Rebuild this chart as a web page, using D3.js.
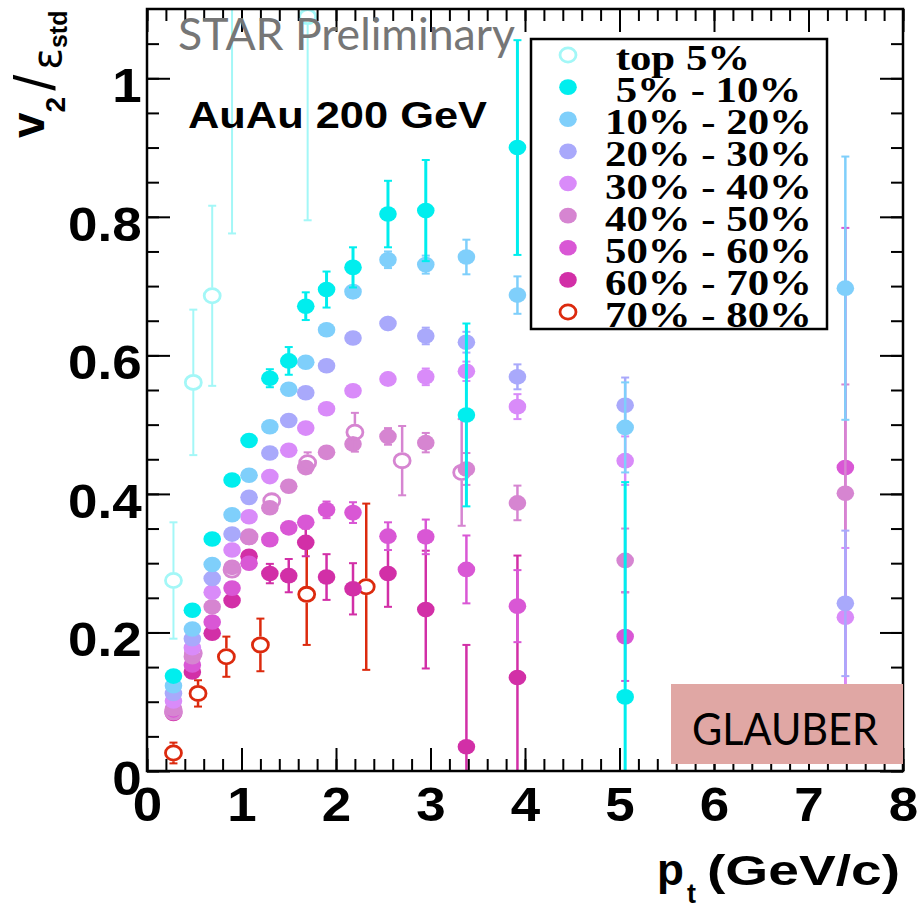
<!DOCTYPE html>
<html><head><meta charset="utf-8">
<script src="https://cdn.jsdelivr.net/npm/d3@7"></script>
<style>html,body{margin:0;padding:0;background:#fff;} svg{display:block}</style>
</head><body>
<svg id="chart" width="917" height="909"></svg>
<script>
// pt bins (GeV/c) shared by the filled-marker centrality classes
const ptBins = [0.28, 0.48, 0.69, 0.90, 1.08, 1.30, 1.50, 1.68, 1.90, 2.18, 2.55, 2.95, 3.38, 3.92, 5.06, 7.39];

// v2/eps_std per centrality class, with statistical errors
const v5to10   = [0.137, 0.232, 0.335, 0.420, 0.477, 0.567, 0.592, 0.671, 0.695, 0.727, 0.804, 0.809, 0.514, 0.900, 0.107, null];
const e5to10   = [0.004, 0.005, 0.006, 0.007, 0.008, 0.013, 0.020, 0.020, 0.026, 0.029, 0.048, 0.073, 0.132, 0.155, 0.310, null];
const v10to20  = [0.123, 0.205, 0.298, 0.370, 0.427, 0.497, 0.551, 0.590, 0.637, 0.692, 0.738, 0.731, 0.742, 0.687, 0.496, 0.697];
const e10to20  = [0.003, 0.004, 0.005, 0.006, 0.006, 0.007, 0.008, 0.009, 0.010, 0.011, 0.012, 0.013, 0.025, 0.027, 0.065, 0.190];
const v20to30  = [0.112, 0.191, 0.278, 0.342, 0.395, 0.459, 0.506, 0.546, 0.585, 0.625, 0.646, 0.628, 0.619, 0.569, 0.528, 0.242];
const e20to30  = [0.003, 0.004, 0.005, 0.005, 0.006, 0.006, 0.007, 0.008, 0.009, 0.010, 0.011, 0.012, 0.015, 0.018, 0.040, 0.105];
const v30to40  = [0.101, 0.178, 0.258, 0.319, 0.367, 0.425, 0.463, 0.495, 0.523, 0.549, 0.566, 0.569, 0.577, 0.526, 0.448, 0.222];
const e30to40  = [0.003, 0.004, 0.005, 0.005, 0.006, 0.006, 0.007, 0.008, 0.009, 0.010, 0.011, 0.012, 0.014, 0.018, 0.035, 0.100];
const v40to50  = [0.090, 0.165, 0.237, 0.294, 0.337, 0.380, 0.411, 0.438, 0.460, 0.472, 0.483, 0.474, 0.436, 0.387, 0.304, 0.401];
const e40to50  = [0.003, 0.004, 0.005, 0.005, 0.006, 0.007, 0.008, 0.009, 0.010, 0.011, 0.012, 0.014, 0.023, 0.025, 0.046, 0.157];
const v50to60  = [0.086, 0.153, 0.215, 0.264, 0.300, 0.334, 0.351, 0.359, 0.377, 0.373, 0.339, 0.338, 0.291, 0.238, 0.194, 0.438];
const e50to60  = [0.003, 0.004, 0.005, 0.006, 0.007, 0.008, 0.009, 0.010, 0.012, 0.015, 0.020, 0.025, 0.049, 0.052, 0.064, 0.346];
const v60to70  = [0.083, 0.143, 0.199, 0.246, 0.310, 0.285, 0.282, 0.330, 0.280, 0.263, 0.285, 0.233, 0.035, 0.135, null, null];
const e60to70  = [0.003, 0.004, 0.005, 0.006, 0.008, 0.014, 0.024, 0.020, 0.033, 0.037, 0.048, 0.085, 0.147, 0.176, null, null];

// open-marker classes have their own pt bins
const ptTop5   = [0.28, 0.49, 0.69, 0.90, 1.70];
const vTop5    = [0.275, 0.561, 0.686, 1.250, 1.089];
const eTop5    = [0.084, 0.105, 0.130, 0.474, 0.294];
const pt70to80 = [0.28, 0.54, 0.84, 1.20, 1.69, 2.32];
const v70to80  = [0.026, 0.112, 0.165, 0.182, 0.255, 0.266];
const e70to80  = [0.015, 0.019, 0.029, 0.038, 0.073, 0.120];
// additional open points in the 40-50% colour
const ptOpen   = [0.28, 0.49, 0.90, 1.08, 1.32, 1.70, 2.20, 2.70, 3.33];
const vOpen    = [0.085, 0.170, 0.290, 0.338, 0.390, 0.445, 0.489, 0.448, 0.431];
const eOpen    = [0.004, 0.006, 0.008, 0.008, 0.012, 0.015, 0.028, 0.050, 0.077];

const xTicks = [0, 1, 2, 3, 4, 5, 6, 7, 8];
const yTicks = [0, 0.2, 0.4, 0.6, 0.8, 1];
const legendLabels = ["\u00a0top 5%", "\u00a05% - 10%", "10% - 20%", "20% - 30%", "30% - 40%",
                      "40% - 50%", "50% - 60%", "60% - 70%", "70% - 80%"];

const series = [
  {label: legendLabels[0], pt: ptTop5,   v: vTop5,   err: eTop5,   color: "#a3f7f7", open: true,  w: 2},
  {label: legendLabels[1], pt: ptBins,   v: v5to10,  err: e5to10,  color: "#00eeee", open: false, w: 3},
  {label: legendLabels[2], pt: ptBins,   v: v10to20, err: e10to20, color: "#7fcffb", open: false, w: 2.5},
  {label: legendLabels[3], pt: ptBins,   v: v20to30, err: e20to30, color: "#a9a9fb", open: false, w: 2.5},
  {label: legendLabels[4], pt: ptBins,   v: v30to40, err: e30to40, color: "#d98bf9", open: false, w: 2.5},
  {label: legendLabels[5], pt: ptBins,   v: v40to50, err: e40to50, color: "#d685d1", open: false, w: 2.5},
  {label: legendLabels[6], pt: ptBins,   v: v50to60, err: e50to60, color: "#d957d5", open: false, w: 2.5},
  {label: legendLabels[7], pt: ptBins,   v: v60to70, err: e60to70, color: "#d22fa7", open: false, w: 2.5},
  {label: legendLabels[8], pt: pt70to80, v: v70to80, err: e70to80, color: "#dc2a0e", open: true,  w: 2.5}
];
const extraOpen = {pt: ptOpen, v: vOpen, err: eOpen, color: "#d685d1", open: true, w: 2.5};

const svg = d3.select("#chart");
const pLeft = 147, pRight = 903, pTop = 9, pBottom = 771;
const x = d3.scaleLinear().domain([0, 8]).range([pLeft, pRight]);
const y = d3.scaleLinear().domain([0, 1.1]).range([pBottom, pTop]);

const RX = 8.8, RY = 7.8;       // filled marker radii
const ORX = 8.0, ORY = 7.1;     // open marker radii

svg.append("defs").append("clipPath").attr("id", "plotClip")
  .append("rect").attr("x", pLeft).attr("y", pTop).attr("width", pRight - pLeft).attr("height", pBottom - pTop);

const plot = svg.append("g").attr("clip-path", "url(#plotClip)");

function drawSeries(s) {
  const pts = s.pt.map((p, i) => ({p, v: s.v[i], e: s.err[i]})).filter(d => d.v != null);
  const g = plot.append("g").attr("stroke", s.color).attr("stroke-width", s.w);
  const ry = s.open ? ORY + s.w / 2 : RY;
  // vertical error bars (open markers leave their inside clear)
  if (s.open) {
    g.selectAll("line.up").data(pts.filter(d => y(d.v) - y(d.v + d.e) > ry)).join("line")
      .attr("x1", d => x(d.p)).attr("x2", d => x(d.p))
      .attr("y1", d => y(d.v + d.e)).attr("y2", d => y(d.v) - ry);
    g.selectAll("line.dn").data(pts.filter(d => y(d.v - d.e) - y(d.v) > ry)).join("line")
      .attr("x1", d => x(d.p)).attr("x2", d => x(d.p))
      .attr("y1", d => y(d.v) + ry).attr("y2", d => y(d.v - d.e));
  } else {
    g.selectAll("line.bar").data(pts).join("line")
      .attr("x1", d => x(d.p)).attr("x2", d => x(d.p))
      .attr("y1", d => y(d.v + d.e)).attr("y2", d => y(d.v - d.e));
  }
  // end caps
  const capped = pts.filter(d => y(d.v - d.e) - y(d.v) > ry);
  g.selectAll("line.capT").data(capped).join("line").attr("stroke-width", 2)
    .attr("x1", d => x(d.p) - 4).attr("x2", d => x(d.p) + 4)
    .attr("y1", d => y(d.v + d.e)).attr("y2", d => y(d.v + d.e));
  g.selectAll("line.capB").data(capped).join("line").attr("stroke-width", 2)
    .attr("x1", d => x(d.p) - 4).attr("x2", d => x(d.p) + 4)
    .attr("y1", d => y(d.v - d.e)).attr("y2", d => y(d.v - d.e));
  // markers
  g.selectAll("ellipse").data(pts).join("ellipse")
    .attr("cx", d => x(d.p)).attr("cy", d => y(d.v))
    .attr("rx", s.open ? ORX : RX).attr("ry", s.open ? ORY : RY)
    .attr("fill", s.open ? "none" : s.color)
    .attr("stroke", s.open ? s.color : "none")
    .attr("stroke-width", s.open ? 2.8 : 0);
}

// peripheral classes first so the central ones sit on top
const order = series.slice().reverse();
order.forEach(s => {
  drawSeries(s);
  if (s === series[5]) drawSeries(extraOpen);
});

// axes: major ticks with labels, minor ticks without, mirrored on top and right
const fontAxis = "'Liberation Sans', Arial, Helvetica, sans-serif";
function styleLabels(g) {
  g.selectAll("text").attr("font-family", fontAxis).attr("font-weight", "bold")
    .attr("font-size", 49).attr("fill", "#000").attr("transform", "scale(1.08,1)");
  g.selectAll("line").attr("stroke", "#000").attr("stroke-width", 2);
  g.select(".domain").remove();
}
const xMinor = d3.range(0, 8.0001, 0.2);
const yMinor = d3.range(0, 1.0501, 0.05);

svg.append("g").attr("transform", `translate(0,${pBottom})`)
  .call(d3.axisBottom(x).tickValues(xMinor).tickSizeInner(-12).tickSizeOuter(0).tickFormat(""))
  .call(styleLabels);
svg.append("g").attr("transform", `translate(0,${pBottom})`)
  .call(d3.axisBottom(x).tickValues(xTicks).tickSizeInner(-23).tickSizeOuter(0).tickPadding(15).tickFormat(d3.format("d")))
  .call(styleLabels);
svg.append("g").attr("transform", `translate(0,${pTop})`)
  .call(d3.axisTop(x).tickValues(xMinor).tickSizeInner(-12).tickSizeOuter(0).tickFormat(""))
  .call(styleLabels);
svg.append("g").attr("transform", `translate(0,${pTop})`)
  .call(d3.axisTop(x).tickValues(xTicks).tickSizeInner(-23).tickSizeOuter(0).tickFormat(""))
  .call(styleLabels);

svg.append("g").attr("transform", `translate(${pLeft},0)`)
  .call(d3.axisLeft(y).tickValues(yMinor).tickSizeInner(-12).tickSizeOuter(0).tickFormat(""))
  .call(styleLabels);
const yAxisG = svg.append("g").attr("transform", `translate(${pLeft},0)`)
  .call(d3.axisLeft(y).tickValues(yTicks).tickSizeInner(-23).tickSizeOuter(0).tickPadding(5)
    .tickFormat(d => d === 0 ? "0" : (d === 1 ? "1" : d3.format(".1f")(d))))
  .call(styleLabels);
yAxisG.selectAll("text").attr("dy", "0.48em");
svg.append("g").attr("transform", `translate(${pRight},0)`)
  .call(d3.axisRight(y).tickValues(yMinor).tickSizeInner(-12).tickSizeOuter(0).tickFormat(""))
  .call(styleLabels);
svg.append("g").attr("transform", `translate(${pRight},0)`)
  .call(d3.axisRight(y).tickValues(yTicks).tickSizeInner(-23).tickSizeOuter(0).tickFormat(""))
  .call(styleLabels);

// frame
svg.append("rect").attr("x", pLeft).attr("y", pTop).attr("width", pRight - pLeft).attr("height", pBottom - pTop)
  .attr("fill", "none").attr("stroke", "#000").attr("stroke-width", 2.5);

// axis titles
const yTitle = svg.append("text").attr("transform", "translate(44,138) rotate(-90)")
  .attr("font-family", fontAxis).attr("font-weight", "bold").attr("fill", "#000");
yTitle.append("tspan").attr("font-size", 46).text("v");
yTitle.append("tspan").attr("font-size", 28).attr("dy", 21).text("2");
yTitle.append("tspan").attr("font-size", 58).attr("font-weight", "normal").attr("dy", -10).attr("dx", 6).text("/");
yTitle.append("tspan").attr("font-size", 40).attr("font-family", "'DejaVu Sans', sans-serif")
  .attr("font-weight", "normal").attr("dy", 6).attr("dx", 5).text("ε");
yTitle.append("tspan").attr("font-size", 25).attr("dy", 6).text("std");

const xTitle = svg.append("g").attr("font-family", fontAxis).attr("font-weight", "bold").attr("fill", "#000");
xTitle.append("text").attr("x", 657).attr("y", 885).attr("font-size", 44).text("p");
xTitle.append("text").attr("x", 687).attr("y", 903).attr("font-size", 27).text("t");
xTitle.append("text").attr("x", 707).attr("y", 885).attr("font-size", 42)
  .attr("textLength", 193).attr("lengthAdjust", "spacingAndGlyphs").text("(GeV/c)");

// annotations
svg.append("text").attr("x", 178).attr("y", 50).attr("font-family", "Lato, 'Open Sans', sans-serif")
  .attr("font-size", 44).attr("fill", "#767676")
  .attr("textLength", 337).attr("lengthAdjust", "spacingAndGlyphs").text("STAR Preliminary");
svg.append("text").attr("x", 188).attr("y", 128).attr("font-family", fontAxis).attr("font-weight", "bold")
  .attr("font-size", 37).attr("fill", "#000")
  .attr("textLength", 299).attr("lengthAdjust", "spacingAndGlyphs").text("AuAu 200 GeV");

// legend
const legend = svg.append("g");
legend.append("rect").attr("x", 531).attr("y", 39).attr("width", 296).attr("height", 290)
  .attr("fill", "#fff").attr("stroke", "#000").attr("stroke-width", 2.5);
const rowY = d3.scaleLinear().domain([0, 8]).range([55, 312]);
const rows = legend.selectAll("g.row").data(series).join("g")
  .attr("transform", (d, i) => `translate(0,${rowY(i)})`);
rows.append("ellipse").attr("cx", 568).attr("cy", 0)
  .attr("rx", d => d.open ? ORX : RX).attr("ry", d => d.open ? ORY : RY)
  .attr("fill", d => d.open ? "#fff" : d.color)
  .attr("stroke", d => d.open ? d.color : "none").attr("stroke-width", 2.8);
rows.append("text").attr("transform", "translate(605,15) scale(1.19,1)")
  .attr("font-family", "'Liberation Serif', 'Times New Roman', serif").attr("font-weight", "bold")
  .attr("font-size", 36).attr("fill", "#000").text(d => d.label);

// model label
svg.append("rect").attr("x", 671).attr("y", 684).attr("width", pRight - 671).attr("height", 80)
  .attr("fill", "#e0a7a4");
svg.append("text").attr("x", 692).attr("y", 745).attr("font-family", "Lato, 'Open Sans', sans-serif")
  .attr("font-size", 44).attr("fill", "#000")
  .attr("textLength", 186).attr("lengthAdjust", "spacingAndGlyphs").text("GLAUBER");
</script>
</body></html>
